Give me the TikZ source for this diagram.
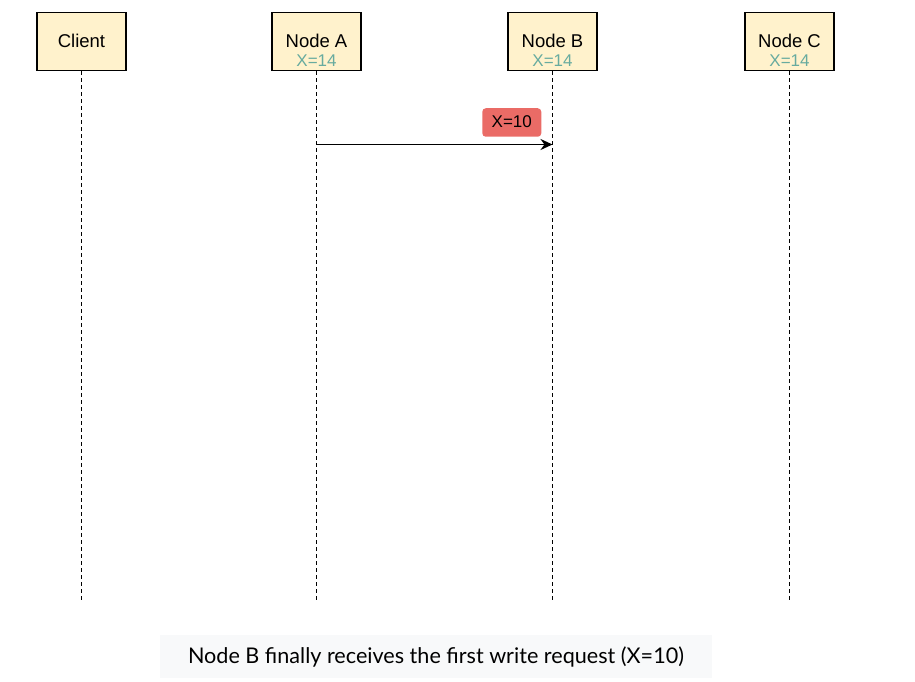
\documentclass[tikz,border=0pt]{standalone}
\usepackage{fontspec}
\setmainfont{Liberation Sans}
\newfontfamily\capfont{Lato}
\usetikzlibrary{positioning}
\usetikzlibrary{arrows.meta}
\definecolor{boxfill}{HTML}{FFF2CC}
\definecolor{valgreen}{HTML}{67AB9F}
\definecolor{msgred}{HTML}{EA6B66}
\definecolor{capgray}{HTML}{F8F9FA}

\begin{document}
\begin{tikzpicture}[x=1pt,y=-1pt]
            \useasboundingbox (0,0) rectangle (915,682);
            % Replicas and client
            \tikzset{
                peer/.style={draw, line width=1.3pt, fill=boxfill, minimum width=89pt, minimum height=58.5pt},
                title/.style={anchor=base, inner sep=0pt, font=\fontsize{18.5}{20}\selectfont},
                val/.style={anchor=base, inner sep=0pt, text=valgreen, font=\fontsize{17}{18}\selectfont},
                life/.style={line width=1.5pt, dash pattern=on 4pt off 3pt},
                badge/.style={fill=msgred, rounded corners=3.5pt, minimum width=59pt, minimum height=28.5pt}
            }
            \node[peer] (client) at (81.5,41.5) {};
            \node[peer] (nodeA) at (316.5,41.5) {};
            \node[peer] (nodeB) at (552.5,41.5) {};
            \node[peer] (nodeC) at (789.5,41.5) {};

            \node[title] (clientName) at (81.5,47.7) {Client};
            \node[title] (nodeAName) at (316.5,47.7) {Node A};
            \node[val] (nodeAVal) at (316.5,67) {X=14};
            \node[title] (nodeBName) at (552.5,47.7) {Node B};
            \node[val] (nodeBVal) at (552.5,67) {X=14};
            \node[title] (nodeCName) at (789.5,47.7) {Node C};
            \node[val] (nodeCVal) at (789.5,67) {X=14};

            \coordinate (clientEnd) at (81.5,601);
            \coordinate (nodeAEnd) at (316.5,601);
            \coordinate (nodeBEnd) at (552.5,601);
            \coordinate (nodeCEnd) at (789.5,601);

            \draw[life] (client) -- (clientEnd);
            \draw[life] (nodeA) -- (nodeAEnd);
            \draw[life] (nodeB) -- (nodeBEnd);
            \draw[life] (nodeC) -- (nodeCEnd);

            % Write request from A to B
            \coordinate (sendA) at (316.5,144.5);
            \coordinate (recvB) at (552.5,144.5);
            \draw[-{Stealth[length=12pt,width=11pt]}, line width=1.5pt] (sendA) -- (recvB);
            \node[badge] (msg) at (511.8,122.5) {};
            \node[anchor=base, inner sep=0pt, font=\fontsize{17}{18}\selectfont] (msgText) at (511.8,127.7) {X=10};

            % Caption
            \node[fill=capgray, minimum width=552pt, minimum height=43pt, font=\capfont\fontsize{21.6}{24}\selectfont] (caption) at (436,656.5) {Node B finally receives the first write request (X=10)};
        \end{tikzpicture}
\end{document}
